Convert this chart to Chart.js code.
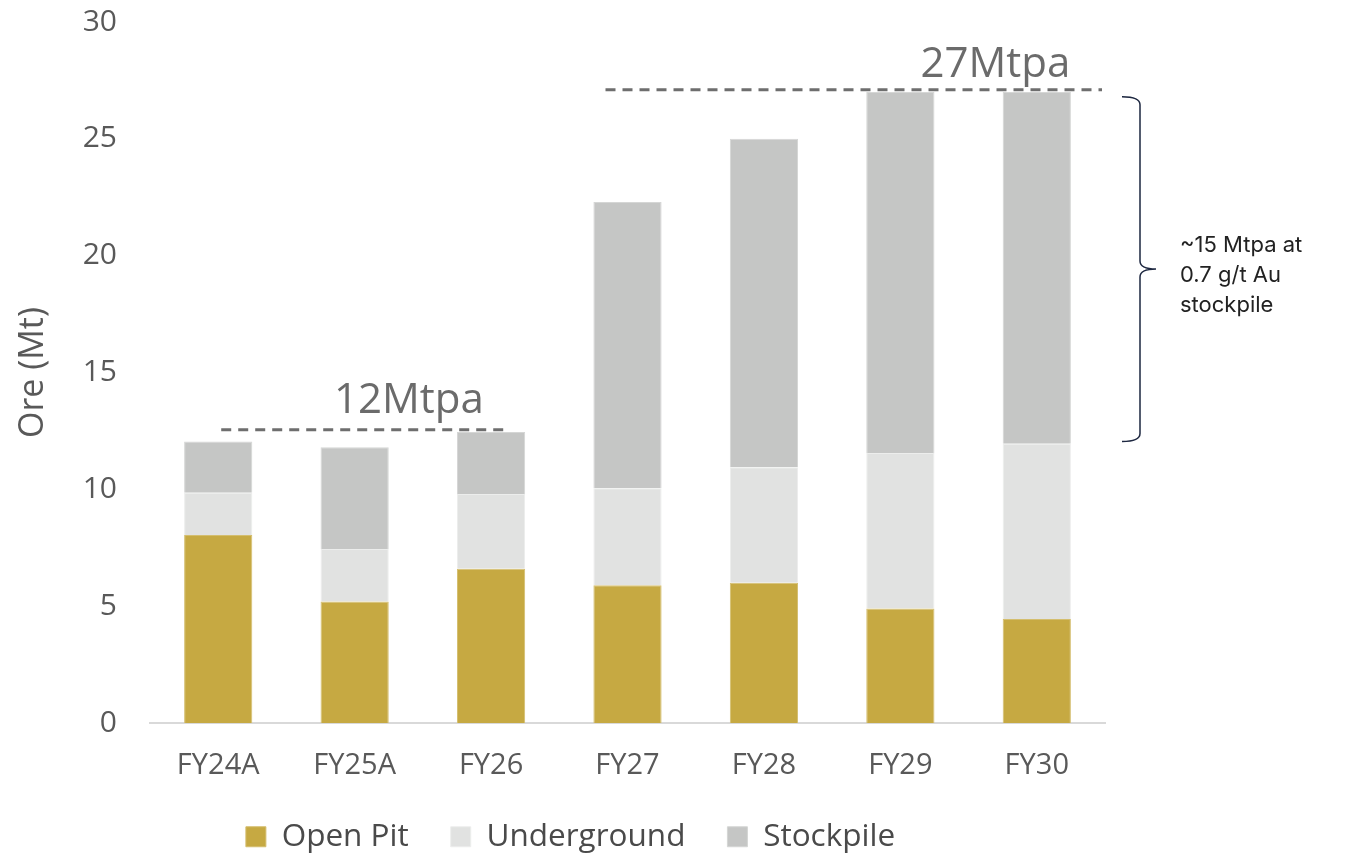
<!DOCTYPE html>
<html>
<head>
<meta charset="utf-8">
<script src="https://cdn.jsdelivr.net/npm/chart.js@4"></script>
<style>
  html, body { margin: 0; padding: 0; background: #ffffff; }
  #wrap { width: 1358px; height: 853px; position: relative; }
</style>
</head>
<body>
<div id="wrap"><canvas id="c" width="1358" height="853"></canvas></div>
<script>
const categories = ["FY24A", "FY25A", "FY26", "FY27", "FY28", "FY29", "FY30"];
const openPit     = [8.05, 5.2, 6.6, 5.9, 6.0, 4.9, 4.45];
const underground = [1.8, 2.25, 3.2, 4.15, 4.95, 6.65, 7.5];
const stockpile   = [2.2, 4.35, 2.65, 12.25, 14.05, 15.45, 15.05];
const yTicks = [0, 5, 10, 15, 20, 25, 30];
const capacityLabels = ["12Mtpa", "27Mtpa"];
const capacityValues = [12.55, 27.1];
const bracketRange = [12.05, 26.8];
const noteLines = ["~15 Mtpa at", "0.7 g/t Au", "stockpile"];

const annotations = {
  id: 'annotations',
  afterDatasetsDraw(chart) {
    const ctx = chart.ctx;
    const x = chart.scales.x, y = chart.scales.y;
    ctx.save();
    ctx.strokeStyle = '#6e6e6e';
    ctx.lineWidth = 3;
    ctx.setLineDash([10, 7]);
    const y12 = y.getPixelForValue(capacityValues[0]);
    ctx.beginPath();
    ctx.moveTo(x.getPixelForValue(0) + 3, y12);
    ctx.lineTo(x.getPixelForValue(2) + 17, y12);
    ctx.stroke();
    const y27 = y.getPixelForValue(capacityValues[1]);
    ctx.beginPath();
    ctx.moveTo(x.getPixelForValue(3) - 22, y27);
    ctx.lineTo(chart.chartArea.right - 3, y27);
    ctx.stroke();
    ctx.setLineDash([]);
    ctx.fillStyle = '#6b6b6b';
    ctx.font = '42px "Open Sans"';
    ctx.textAlign = 'center';
    ctx.textBaseline = 'alphabetic';
    ctx.fillText(capacityLabels[0], (x.getPixelForValue(1) + x.getPixelForValue(2)) / 2 - 14, y12 - 17);
    ctx.fillText(capacityLabels[1], x.getPixelForValue(5) + 95, y27 - 13);
    const top = y.getPixelForValue(bracketRange[1]);
    const bot = y.getPixelForValue(bracketRange[0]);
    const mid = (top + bot) / 2;
    const bx = chart.chartArea.right + 35;
    ctx.strokeStyle = '#1d2740';
    ctx.lineWidth = 1.5;
    ctx.beginPath();
    ctx.moveTo(bx - 18, top);
    ctx.quadraticCurveTo(bx, top, bx, top + 8);
    ctx.lineTo(bx, mid - 8);
    ctx.quadraticCurveTo(bx, mid, bx + 16, mid);
    ctx.quadraticCurveTo(bx, mid, bx, mid + 8);
    ctx.lineTo(bx, bot - 8);
    ctx.quadraticCurveTo(bx, bot, bx - 18, bot);
    ctx.stroke();
    ctx.fillStyle = '#222222';
    ctx.font = '22px Inter';
    ctx.textAlign = 'left';
    ctx.textBaseline = 'middle';
    noteLines.forEach((t, i) => ctx.fillText(t, bx + 40, mid - 24 + i * 30));
    ctx.restore();
  }
};

new Chart(document.getElementById('c'), {
  type: 'bar',
  data: {
    labels: categories,
    datasets: [
      { label: 'Open Pit', data: openPit, backgroundColor: '#C6A942', borderColor: '#D4BE6E', borderWidth: 1 },
      { label: 'Underground', data: underground, backgroundColor: '#E1E2E1', borderColor: '#ECEDEC', borderWidth: 1 },
      { label: 'Stockpile', data: stockpile, backgroundColor: '#C5C6C5', borderColor: '#D5D6D5', borderWidth: 1 }
    ]
  },
  options: {
    responsive: false,
    animation: false,
    devicePixelRatio: 1,
    layout: { padding: { left: 0, right: 217, top: 22, bottom: 0 } },
    datasets: { bar: { categoryPercentage: 1.0, barPercentage: 0.5 } },
    scales: {
      x: {
        stacked: true,
        grid: { display: false, drawTicks: false },
        border: { display: true, color: '#D9D9D9', width: 2 },
        ticks: { color: '#595959', font: { family: '"Open Sans"', size: 29 }, padding: 25 },
        afterFit(s) { s.height = 56; }
      },
      y: {
        stacked: true,
        min: 0, max: 30,
        afterBuildTicks(s) { s.ticks = yTicks.map(v => ({ value: v })); },
        grid: { display: false, drawTicks: false },
        border: { display: false },
        ticks: { color: '#595959', font: { family: '"Open Sans"', size: 30 }, padding: 33 },
        title: { display: true, text: 'Ore (Mt)', color: '#595959', font: { family: '"Open Sans"', size: 34 }, padding: { top: 13, bottom: 0 } },
        afterFit(s) { s.width = 150; s.paddingTop = 0; s.paddingBottom = 0; }
      },
      yR: {
        position: 'right',
        display: true,
        grid: { display: false, drawTicks: false },
        border: { display: false },
        ticks: { display: false },
        afterFit(s) { s.width = 36; s.paddingTop = 0; s.paddingBottom = 0; }
      }
    },
    plugins: {
      legend: {
        position: 'bottom',
        maxHeight: 74,
        labels: {
          color: '#4a4a4a',
          font: { family: '"Open Sans"', size: 31.5 },
          boxWidth: 20, boxHeight: 20,
          padding: 42
        }
      },
      tooltip: { enabled: false }
    }
  },
  plugins: [annotations]
});
</script>
</body>
</html>
